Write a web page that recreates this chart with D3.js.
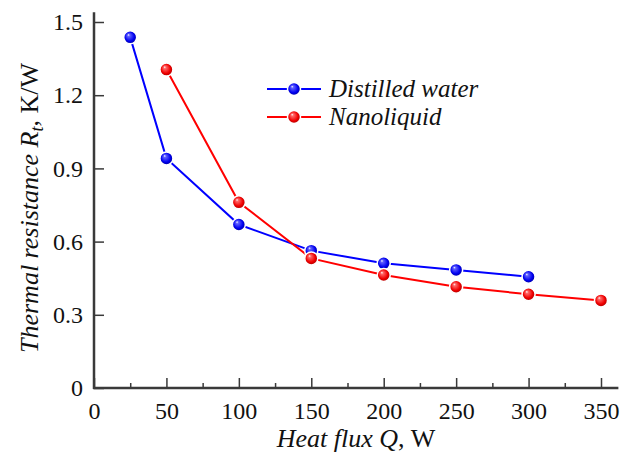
<!DOCTYPE html>
<html>
<head>
<meta charset="utf-8">
<script src="https://cdn.jsdelivr.net/npm/d3@7"></script>
<style>
  body { margin: 0; background: #fff; }
  text { font-family: "Liberation Serif", "Times New Roman", serif; }
</style>
</head>
<body>
<div id="chart"></div>
<script>
// Data
const waterQ = [25, 50, 100, 150, 200, 250, 300]
const waterR = [1.437, 0.941, 0.670, 0.563, 0.511, 0.484, 0.456]
const nanoQ = [50, 100, 150, 200, 250, 300, 350]
const nanoR = [1.305, 0.761, 0.531, 0.463, 0.415, 0.384, 0.359]
const xTicks = [0, 50, 100, 150, 200, 250, 300, 350]
const yTicks = [0, 0.3, 0.6, 0.9, 1.2, 1.5]
const seriesNames = ['Distilled water', 'Nanoliquid']

let dimensions = {
    width: 632,
    height: 454,
    margin: { top: 22, bottom: 66, left: 94, right: 31 }
}

const svg = d3.select('#chart')
    .append('svg')
    .attr('width', dimensions.width)
    .attr('height', dimensions.height)

const x0 = dimensions.margin.left
const y0 = dimensions.height - dimensions.margin.bottom

const xScale = d3.scaleLinear()
    .domain([0, 350])
    .range([x0, dimensions.width - dimensions.margin.right])

const yScale = d3.scaleLinear()
    .domain([0, 1.5])
    .range([y0, dimensions.margin.top])

// gradients for the shiny markers
const defs = svg.append('defs')
function sphere(id, light, base, dark) {
    const g = defs.append('radialGradient')
        .attr('id', id)
        .attr('cx', '50%').attr('cy', '50%').attr('r', '55%')
        .attr('fx', '35%').attr('fy', '30%')
    g.append('stop').attr('offset', '0%').attr('stop-color', '#ffffff')
    g.append('stop').attr('offset', '18%').attr('stop-color', light)
    g.append('stop').attr('offset', '65%').attr('stop-color', base)
    g.append('stop').attr('offset', '100%').attr('stop-color', dark)
}
sphere('ballBlue', '#6060ff', '#0000f0', '#00008a')
sphere('ballRed', '#ff6868', '#f00000', '#9a0000')

// Axes (ticks point inward)
const axisColor = '#3a3a3a'

const xAxis = d3.axisBottom(xScale)
    .tickValues(xTicks)
    .tickSizeInner(-10)
    .tickSizeOuter(0)
    .tickPadding(14)

const xMinor = d3.axisBottom(xScale)
    .tickValues(d3.range(25, 351, 50))
    .tickSizeInner(-5)
    .tickSizeOuter(0)
    .tickFormat('')

const yAxis = d3.axisLeft(yScale)
    .tickValues(yTicks)
    .tickSizeInner(-10)
    .tickSizeOuter(0)
    .tickPadding(11)
    .tickFormat(d => d === 0 ? '0' : d3.format('.1f')(d))

svg.append('g')
    .attr('transform', `translate(0, ${y0})`)
    .call(xAxis)
svg.append('g')
    .attr('transform', `translate(0, ${y0})`)
    .call(xMinor)
svg.append('g')
    .attr('transform', `translate(${x0}, 0)`)
    .call(yAxis)

svg.selectAll('.domain').remove()
svg.selectAll('.tick line').attr('stroke', axisColor).attr('stroke-width', 1.5)
svg.selectAll('.tick text')
    .attr('fill', '#111')
    .attr('font-size', '24px')
    .attr('font-family', '"Liberation Serif", serif')

// axis lines run a bit past the last ticks
svg.append('line')
    .attr('x1', x0 - 1).attr('x2', xScale(362))
    .attr('y1', y0).attr('y2', y0)
    .attr('stroke', axisColor).attr('stroke-width', 2.5)
svg.append('line')
    .attr('x1', x0).attr('x2', x0)
    .attr('y1', y0 + 1).attr('y2', yScale(1.54))
    .attr('stroke', axisColor).attr('stroke-width', 2.5)

// Axis titles
const xt = svg.append('text')
    .attr('x', 356)
    .attr('y', 447)
    .attr('font-size', '26px')
    .attr('text-anchor', 'middle')
    .attr('fill', '#111')
xt.append('tspan').attr('font-style', 'italic').text('Heat flux Q')
xt.append('tspan').text(',  W')

const yt = svg.append('text')
    .attr('transform', `translate(38, 208) rotate(-90)`)
    .attr('font-size', '26px')
    .attr('text-anchor', 'middle')
    .attr('fill', '#111')
yt.append('tspan').attr('font-style', 'italic').text('Thermal resistance R')
yt.append('tspan').attr('font-style', 'italic').attr('font-size', '18px').attr('dy', 5).text('t')
yt.append('tspan').attr('dy', -5).text(', K/W')

// Lines and markers
const series = [
    { name: seriesNames[0], q: waterQ, r: waterR, color: '#0000ff', fill: 'url(#ballBlue)' },
    { name: seriesNames[1], q: nanoQ, r: nanoR, color: '#ff0000', fill: 'url(#ballRed)' }
]

const line = d3.line()
    .x(d => xScale(d[0]))
    .y(d => yScale(d[1]))

series.forEach(s => {
    const pts = s.q.map((q, i) => [q, s.r[i]])
    svg.append('path')
        .datum(pts)
        .attr('d', line)
        .attr('fill', 'none')
        .attr('stroke', s.color)
        .attr('stroke-width', 2)
})

series.forEach(s => {
    const pts = s.q.map((q, i) => [q, s.r[i]])
    svg.selectAll(null)
        .data(pts)
        .join('circle')
        .attr('cx', d => xScale(d[0]))
        .attr('cy', d => yScale(d[1]))
        .attr('r', 6.5)
        .attr('fill', s.fill)
        .attr('stroke', '#fff')
        .attr('stroke-width', 1.5)
})

// Legend
const legend = svg.append('g').attr('transform', 'translate(267, 89)')
series.forEach((s, i) => {
    const row = legend.append('g').attr('transform', `translate(0, ${i * 28})`)
    row.append('line')
        .attr('x1', 0).attr('x2', 54)
        .attr('stroke', s.color).attr('stroke-width', 2)
    row.append('circle')
        .attr('cx', 27).attr('r', 6.5)
        .attr('fill', s.fill)
        .attr('stroke', '#fff').attr('stroke-width', 1.5)
    row.append('text')
        .attr('x', 62).attr('y', 8)
        .attr('font-size', '25px')
        .attr('font-style', 'italic')
        .attr('fill', '#111')
        .text(s.name)
})
</script>
</body>
</html>
